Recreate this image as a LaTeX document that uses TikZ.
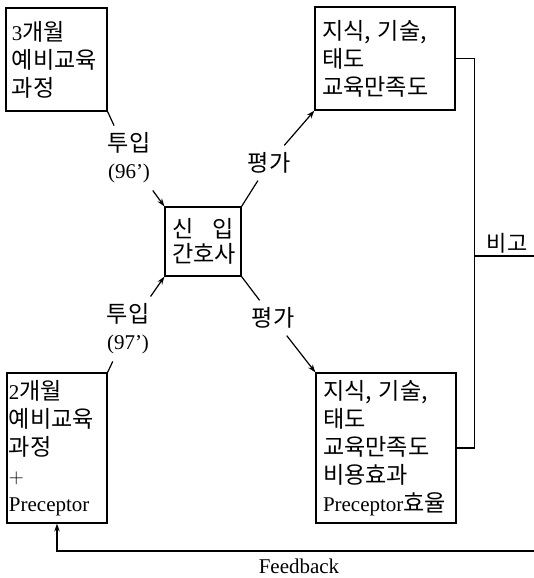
\documentclass[tikz,border=0pt]{standalone}
\usepackage{fontspec}
\setmainfont{Liberation Serif}
\newfontfamily\kr[Scale=1.1]{Noto Sans CJK KR}
\usetikzlibrary{arrows.meta}
\tikzset{
  box/.style={draw, line width=1.2pt, align=left, inner ysep=0pt,
              font=\fontsize{21}{28}\selectfont},
  lbl/.style={align=center, inner sep=7pt,
              font=\fontsize{21}{27}\selectfont},
  conn/.style={line width=1.2pt},
  arr/.style={conn, -{Stealth[length=8pt,width=5.5pt]}}
}
\begin{document}
\lineskiplimit=-100pt\relax
\begin{tikzpicture}[x=1pt,y=-1pt]
\useasboundingbox (0,0) rectangle (534,578);
% boxes
\node[box, text width=89pt, inner xsep=6pt, minimum height=103pt] (A) at (56.5,59.5)
  {3{\kr 개월}\\{\kr 예비교육}\\{\kr 과정}};
\node[box, text width=126pt, inner xsep=7pt, minimum height=103pt] (B) at (385,58.5)
  {{\kr 지식, 기술,}\\{\kr 태도}\\{\kr 교육만족도}};
\node[box, text width=62pt, inner xsep=7pt, minimum height=69pt, align=center,
      font=\fontsize{21}{25}\selectfont] (C) at (203,241.5)
  {{\kr 신\hfill 입}\\{\kr 간호사}};
\node[box, text width=96pt, inner xsep=2pt, minimum height=150pt] (D) at (57,448)
  {2{\kr 개월}\\{\kr 예비교육}\\{\kr 과정}\\$+$\\Preceptor};
\node[box, text width=126pt, inner xsep=7pt, minimum height=150pt] (E) at (386,448)
  {{\kr 지식, 기술,}\\{\kr 태도}\\{\kr 교육만족도}\\{\kr 비용효과}\\Preceptor{\kr 효율}};
% labels
\node[lbl] (t1) at (129,158) {{\kr 투입}\\(96')};
\node[lbl] (t2) at (128,329) {{\kr 투입}\\(97')};
\node[lbl] (p1) at (269,163) {{\kr 평가}};
\node[lbl] (p2) at (273,318) {{\kr 평가}};
% connectors
\draw[conn] (A.south east) -- (t1);
\draw[arr] (t1) -- (C.north west);
\draw[conn] (D.north east) -- (t2);
\draw[arr] (t2) -- (C.south west);
\draw[conn] (C.north east) -- (p1);
\draw[arr] (p1) -- (B.south west);
\draw[conn] (C.south east) -- (p2);
\draw[arr] (p2) -- (E.north west);
% comparison bracket
\draw[conn] (B.east) -- ++(19,0) |- (E.east);
\coordinate (bgL) at (474,256);
\coordinate (bgR) at (534,256);
\draw[conn] (bgL) -- (bgR);
\node[font=\fontsize{20}{24}\selectfont, inner sep=2pt] (bg) at (507,243) {{\kr 비고}};
% feedback
\coordinate (fbR) at (534,551);
\draw[arr] (fbR) -| (D.south);
\node[font=\fontsize{21}{25}\selectfont, inner sep=1pt] (fb) at (299,566) {Feedback};
\end{tikzpicture}
\end{document}
